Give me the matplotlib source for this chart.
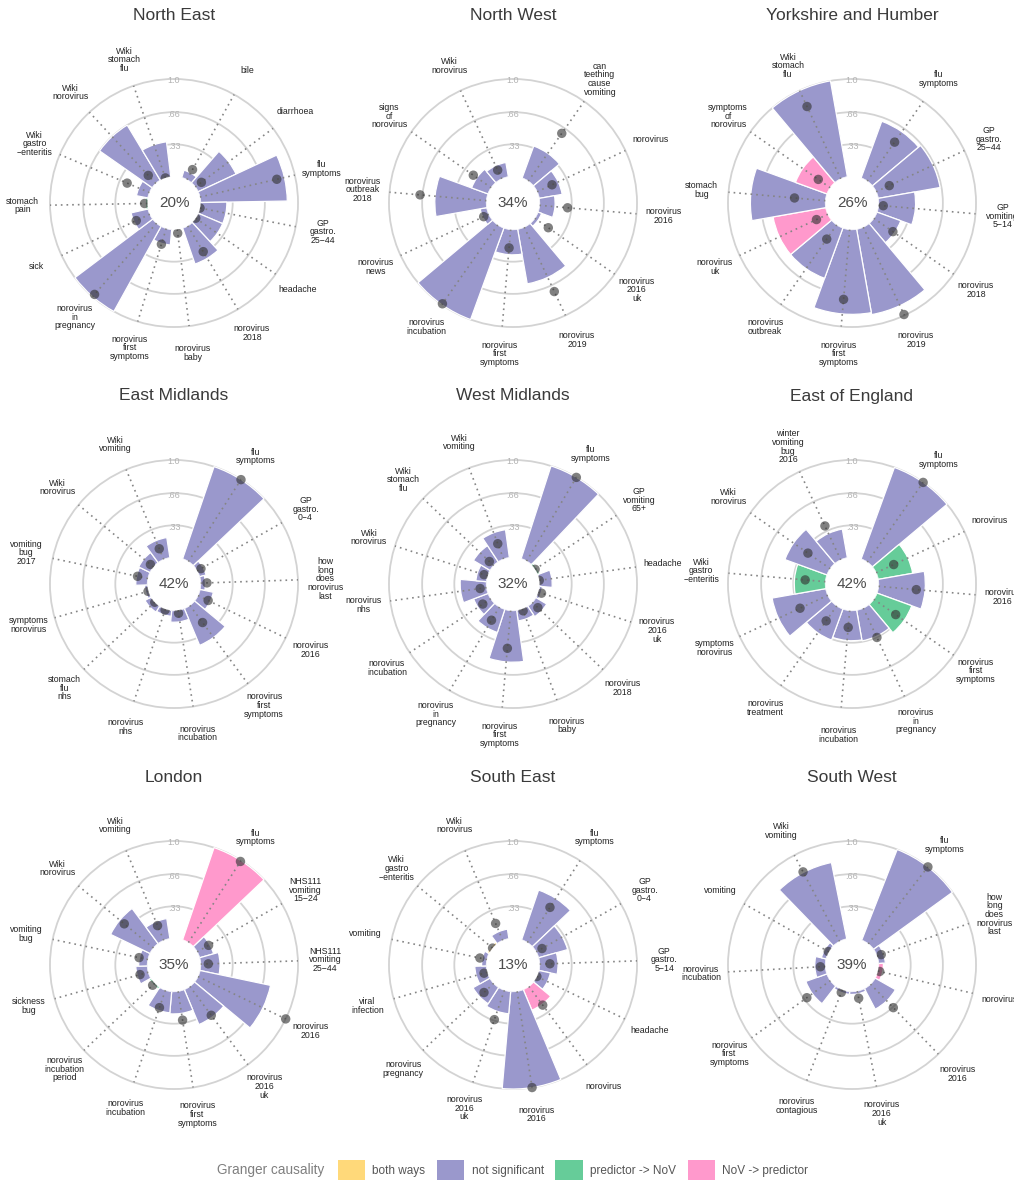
import numpy as np
import matplotlib.pyplot as plt
from matplotlib.patches import Patch

plt.rcParams['font.family'] = ['Liberation Sans', 'DejaVu Sans']

W, H = 1014, 1182

# Granger causality classes
fill = {'both': '#ffd97a', 'ns': '#9a98cc', 'pred': '#66cc99', 'nov': '#ff99cc'}
legend_keys = ['both', 'ns', 'pred', 'nov']
legend_text = ['both ways', 'not significant', 'predictor -> NoV', 'NoV -> predictor']

# ---- North East
ne_terms = ['bile', 'diarrhoea', 'flu symptoms', 'GP gastro. 25−44', 'headache',
            'norovirus 2018', 'norovirus baby', 'norovirus first symptoms',
            'norovirus in pregnancy', 'sick', 'stomach pain',
            'Wiki gastro −enteritis', 'Wiki norovirus', 'Wiki stomach flu']
ne_bar = [0.08, 0.43, 0.89, 0.27, 0.27, 0.39, 0.0, 0.16, 1.0, 0.18, 0.02, 0.12, 0.66, 0.36]
ne_dot = [0.12, 0.08, 0.81, 0.0, 0.0, 0.31, 0.04, 0.17, 0.97, 0.155, 0.03, 0.25, 0.115, 0.0]
ne_grp = ['ns'] * 10 + ['pred'] + ['ns'] * 3

# ---- North West
nw_terms = ['can teething cause vomiting', 'norovirus', 'norovirus 2016',
            'norovirus 2016 uk', 'norovirus 2019', 'norovirus first symptoms',
            'norovirus incubation', 'norovirus news', 'norovirus outbreak 2018',
            'signs of norovirus', 'Wiki norovirus']
nw_bar = [0.35, 0.24, 0.16, 0.04, 0.57, 0.26, 1.0, 0.07, 0.53, 0.18, 0.15]
nw_dot = [0.60, 0.17, 0.29, 0.17, 0.73, 0.19, 0.99, 0.06, 0.685, 0.225, 0.10]
nw_grp = ['ns'] * 11

# ---- Yorkshire and Humber
yh_terms = ['flu symptoms', 'GP gastro. 25−44', 'GP vomiting 5−14', 'norovirus 2018',
            'norovirus 2019', 'norovirus first symptoms', 'norovirus outbreak',
            'norovirus uk', 'stomach bug', 'symptoms of norovirus', 'Wiki stomach flu']
yh_bar = [0.62, 0.645, 0.38, 0.26, 0.89, 0.87, 0.55, 0.55, 0.77, 0.345, 1.0]
yh_dot = [0.49, 0.15, 0.05, 0.24, 0.99, 0.72, 0.18, 0.13, 0.32, 0.15, 0.82]
yh_grp = ['ns'] * 7 + ['nov', 'ns', 'nov', 'ns']

# ---- East Midlands
em_terms = ['flu symptoms', 'GP gastro. 0−4', 'how long does norovirus last',
            'norovirus 2016', 'norovirus first symptoms', 'norovirus incubation',
            'norovirus nhs', 'stomach flu nhs', 'symptoms norovirus',
            'vomiting bug 2017', 'Wiki norovirus', 'Wiki vomiting']
em_bar = [1.0, 0.07, 0.05, 0.14, 0.41, 0.12, 0.06, 0.07, 0.03, 0.12, 0.13, 0.21]
em_dot = [1.0, 0.046, 0.066, 0.117, 0.22, 0.032, 0.01, 0.0, 0.005, 0.11, 0.042, 0.12]
em_grp = ['ns'] * 12

# ---- West Midlands
wm_terms = ['flu symptoms', 'GP vomiting 65+', 'headache', 'norovirus 2016 uk',
            'norovirus 2018', 'norovirus baby', 'norovirus first symptoms',
            'norovirus in pregnancy', 'norovirus incubation', 'norovirus nhs',
            'Wiki norovirus', 'Wiki stomach flu', 'Wiki vomiting']
wm_bar = [1.0, 0.02, 0.13, 0.03, 0.13, 0.11, 0.53, 0.25, 0.16, 0.27, 0.11, 0.20, 0.29]
wm_dot = [1.0, 0.0, 0.0, 0.035, 0.08, 0.022, 0.39, 0.16, 0.10, 0.068, 0.04, 0.063, 0.17]
wm_grp = ['ns', 'pred'] + ['ns'] * 11

# ---- East of England
ee_terms = ['flu symptoms', 'norovirus', 'norovirus 2016', 'norovirus first symptoms',
            'norovirus in pregnancy', 'norovirus incubation', 'norovirus treatment',
            'symptoms norovirus', 'Wiki gastro −enteritis', 'Wiki norovirus',
            'winter vomiting bug 2016']
ee_bar = [1.0, 0.36, 0.48, 0.38, 0.32, 0.31, 0.34, 0.56, 0.32, 0.46, 0.30]
ee_dot = [1.0, 0.20, 0.39, 0.275, 0.333, 0.175, 0.19, 0.316, 0.21, 0.28, 0.385]
ee_grp = ['ns', 'pred', 'ns', 'pred', 'ns', 'ns', 'ns', 'ns', 'pred', 'ns', 'ns']

# ---- London
lo_terms = ['flu symptoms', 'NHS111 vomiting 15−24', 'NHS111 vomiting 25−44',
            'norovirus 2016', 'norovirus 2016 uk', 'norovirus first symptoms',
            'norovirus incubation', 'norovirus incubation period', 'sickness bug',
            'vomiting bug', 'Wiki norovirus', 'Wiki vomiting']
lo_bar = [1.0, 0.15, 0.20, 0.74, 0.39, 0.23, 0.22, 0.02, 0.12, 0.09, 0.45, 0.21]
lo_dot = [0.99, 0.136, 0.08, 1.0, 0.37, 0.30, 0.19, 0.03, 0.09, 0.094, 0.39, 0.166]
lo_grp = ['nov'] + ['ns'] * 6 + ['pred'] + ['ns'] * 4

# ---- South East
se_terms = ['flu symptoms', 'GP gastro. 0−4', 'GP gastro. 5−14', 'headache', 'norovirus',
            'norovirus 2016', 'norovirus 2016 uk', 'norovirus pregnancy',
            'viral infection', 'vomiting', 'Wiki gastro −enteritis', 'Wiki norovirus']
se_bar = [0.54, 0.31, 0.19, 0.12, 0.23, 1.0, 0.23, 0.20, 0.12, 0.05, 0.02, 0.10]
se_dot = [0.43, 0.07, 0.107, 0.0, 0.24, 1.0, 0.32, 0.138, 0.037, 0.075, 0.0, 0.19]
se_grp = ['ns'] * 4 + ['nov'] + ['ns'] * 5 + ['both', 'ns']

# ---- South West
sw_terms = ['flu symptoms', 'how long does norovirus last', 'norovirus', 'norovirus 2016',
            'norovirus 2016 uk', 'norovirus contagious', 'norovirus first symptoms',
            'norovirus incubation', 'vomiting', 'Wiki vomiting']
sw_bar = [1.0, 0.07, 0.05, 0.24, 0.03, 0.03, 0.23, 0.11, 0.05, 0.80]
sw_dot = [1.0, 0.046, 0.02, 0.337, 0.075, 0.03, 0.30, 0.053, 0.008, 0.807]
sw_grp = ['ns', 'ns', 'nov'] + ['ns'] * 7

regions = ['North East', 'North West', 'Yorkshire and Humber',
           'East Midlands', 'West Midlands', 'East of England',
           'London', 'South East', 'South West']
explained = [20, 34, 26, 42, 32, 42, 35, 13, 39]
panels = [(ne_terms, ne_bar, ne_dot, ne_grp), (nw_terms, nw_bar, nw_dot, nw_grp),
          (yh_terms, yh_bar, yh_dot, yh_grp), (em_terms, em_bar, em_dot, em_grp),
          (wm_terms, wm_bar, wm_dot, wm_grp), (ee_terms, ee_bar, ee_dot, ee_grp),
          (lo_terms, lo_bar, lo_dot, lo_grp), (se_terms, se_bar, se_dot, se_grp),
          (sw_terms, sw_bar, sw_dot, sw_grp)]

# layout in pixels
col_x = [174, 513, 852]
row_y = [203, 584, 965]
px_per_unit = 97.5
r_origin = -0.272
r_max = 1.45
rad = px_per_unit * (r_max - r_origin)

fig = plt.figure(figsize=(W / 100, H / 100), dpi=100)

for i, (name, pct, (terms, bars, dots, grp)) in enumerate(zip(regions, explained, panels)):
    cx, cy = col_x[i % 3], row_y[i // 3]
    ax = fig.add_axes([(cx - rad) / W, 1 - (cy + rad) / H, 2 * rad / W, 2 * rad / H],
                      projection='polar')
    ax.set_theta_zero_location('N')
    ax.set_theta_direction(-1)
    ax.set_ylim(0, r_max)
    ax.set_rorigin(r_origin)
    # polar draw() switches the inner spine back on, so blank it instead
    for sp in ax.spines.values():
        sp.set_visible(False)
        sp.set_edgecolor('none')
        sp.set_linewidth(0)
    ax.set_xticks([])
    ax.set_yticks([0.33, 0.66, 1.0])
    ax.set_yticklabels([])
    ax.yaxis.grid(True, color='#d3d3d3', linewidth=1.3)
    ax.set_axisbelow(True)

    n = len(terms)
    step = 2 * np.pi / (n + 1)
    theta = np.deg2rad(5) + step * np.arange(1, n + 1)

    ax.bar(theta, bars, width=step, bottom=0, color=[fill[g] for g in grp],
           edgecolor='white', linewidth=0.9, zorder=2)
    ax.vlines(theta, 0, 1.0, colors='#858585', linestyles=(0, (1, 2.4)),
              linewidth=1.2, zorder=3)
    ax.scatter(theta, dots, s=46, c='#333333', alpha=0.62, edgecolors='none', zorder=4)

    for t, term in zip(theta, terms):
        ax.text(t, 1.28, term.replace(' ', '\n'), ha='center', va='center',
                fontsize=6.3, color='#222222', linespacing=0.95)
    for v, s in zip([0.33, 0.66, 1.0], ['.33', '.66', '1.0']):
        ax.text(0, v - 0.02, s, ha='center', va='center', fontsize=6.5, color='#b3b3b3')

    ax.text(0.5, 0.5, f'{pct}%', transform=ax.transAxes, ha='center', va='center',
            fontsize=11, color='#4d4d4d')
    fig.text(cx / W, 1 - (cy - 188) / H, name, ha='center', va='center',
             fontsize=12.5, color='#3a3a3a')

handles = [Patch(facecolor=fill[k], edgecolor='none') for k in legend_keys]
fig.legend(handles, legend_text, loc='center', bbox_to_anchor=(573 / W, 1 - 1170 / H),
           ncol=4, frameon=False, fontsize=8.5, handlelength=2.3, handleheight=2.1,
           handletextpad=0.6, columnspacing=1.0, labelcolor='#555555')
fig.text(324 / W, 1 - 1170 / H, 'Granger causality', ha='right', va='center',
         fontsize=9.8, color='#7f7f7f')

fig.savefig('out.png', dpi=100, facecolor='white')
